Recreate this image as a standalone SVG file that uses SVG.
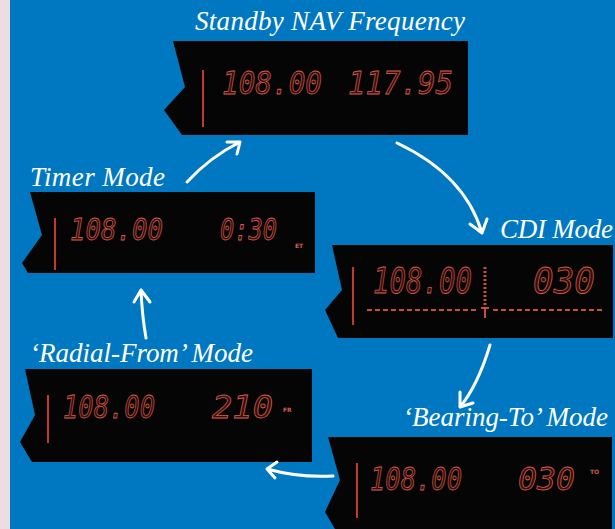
<svg xmlns="http://www.w3.org/2000/svg" width="615" height="529" viewBox="0 0 615 529">
<defs>
<style>
.bg{fill:#0078c1}
.strip{fill:#ecdde1}
.panel{fill:#060506}
.lbl{font-family:"Liberation Serif",serif;font-style:italic;font-size:27px;fill:#ffffff}
.seg{font-family:"DejaVu Sans Mono",monospace;font-style:oblique;fill:#3a0c0a;stroke:#d0604c;stroke-width:0.8}
.tiny{font-family:"DejaVu Sans",sans-serif;font-size:6px;font-weight:bold;fill:#d06050}
.bar{stroke:#c23a2a;stroke-width:2}
.arr{fill:none;stroke:#ffffff;stroke-width:3;stroke-linecap:round;stroke-linejoin:round}
.dash{stroke:#c8503c;stroke-width:2;stroke-dasharray:5 3}
</style>
</defs>
<rect class="bg" x="0" y="0" width="615" height="529"/>
<rect class="strip" x="0" y="0" width="10" height="529"/>

<g id="standby">
<polygon class="panel" points="173,41 468,41 468,135 182,135 164,110 185,87"/>
<line class="bar" x1="203" y1="70" x2="203" y2="127"/>
<text class="seg" x="222" y="94" font-size="32" textLength="100" lengthAdjust="spacingAndGlyphs">108.00</text>
<text class="seg" x="348" y="94" font-size="32" textLength="105" lengthAdjust="spacingAndGlyphs">117.95</text>
<text class="lbl" x="195" y="30" textLength="270">Standby NAV Frequency</text>
</g>

<g id="timer">
<polygon class="panel" points="30,192 315,192 315,273 28,273 22,263 42,235"/>
<line class="bar" x1="55" y1="218" x2="55" y2="270"/>
<text class="seg" x="70" y="240" font-size="30" textLength="93" lengthAdjust="spacingAndGlyphs">108.00</text>
<text class="seg" x="220" y="240" font-size="30" textLength="57" lengthAdjust="spacingAndGlyphs">0:30</text>
<text class="tiny" x="295" y="248">ET</text>
<text class="lbl" x="30" y="186" textLength="135">Timer Mode</text>
</g>

<g id="cdi">
<polygon class="panel" points="332,245 613,245 613,338 338,338 325,310 342,290"/>
<line class="bar" x1="353" y1="267" x2="353" y2="325"/>
<text class="seg" x="373" y="293" font-size="36" textLength="99" lengthAdjust="spacingAndGlyphs">108.00</text>
<line x1="485" y1="267" x2="485" y2="305" stroke="#c8503c" stroke-width="3" stroke-dasharray="2 2"/>
<path d="M481,308 L489,308 M485,308 L485,318" stroke="#c8503c" stroke-width="2" fill="none"/>
<text class="seg" x="533" y="293" font-size="36" textLength="62" lengthAdjust="spacingAndGlyphs">030</text>
<line class="dash" x1="367" y1="310" x2="478" y2="310"/>
<line class="dash" x1="493" y1="310" x2="602" y2="310"/>
<text class="lbl" x="500" y="238" textLength="113">CDI Mode</text>
</g>

<g id="radial">
<polygon class="panel" points="25,369 312,369 312,462 32,462 20,442 35,415"/>
<line class="bar" x1="48" y1="395" x2="48" y2="443"/>
<text class="seg" x="63" y="418" font-size="32" textLength="92" lengthAdjust="spacingAndGlyphs">108.00</text>
<text class="seg" x="212" y="418" font-size="32" textLength="61" lengthAdjust="spacingAndGlyphs">210</text>
<text class="tiny" x="283" y="412">FR</text>
<text class="lbl" x="30" y="362" textLength="223">‘Radial-From’ Mode</text>
</g>

<g id="bearing">
<polygon class="panel" points="328,437 612,437 612,529 335,529 325,512 340,480"/>
<line class="bar" x1="357" y1="463" x2="357" y2="518"/>
<text class="seg" x="370" y="490" font-size="32" textLength="92" lengthAdjust="spacingAndGlyphs">108.00</text>
<text class="seg" x="518" y="490" font-size="32" textLength="57" lengthAdjust="spacingAndGlyphs">030</text>
<text class="tiny" x="590" y="474">TO</text>
<text class="lbl" x="403" y="426" textLength="205">‘Bearing-To’ Mode</text>
</g>

<g id="connectors">
<path class="arr" d="M187,182 Q210,157 240,142 M227,142 L240,142 L237,154"/>
<path class="arr" d="M397,143 Q465,175 482,233 M470,224 L482,233 L487,219"/>
<path class="arr" d="M490,345 Q478,385 460,407 M460,392 L460,407 L473,403"/>
<path class="arr" d="M333,476 Q300,478 267,469 M277,462 L267,469 L275,478"/>
<path class="arr" d="M146,338 Q142,315 141,290 M134,302 L141,290 L150,302"/>
</g>
</svg>
